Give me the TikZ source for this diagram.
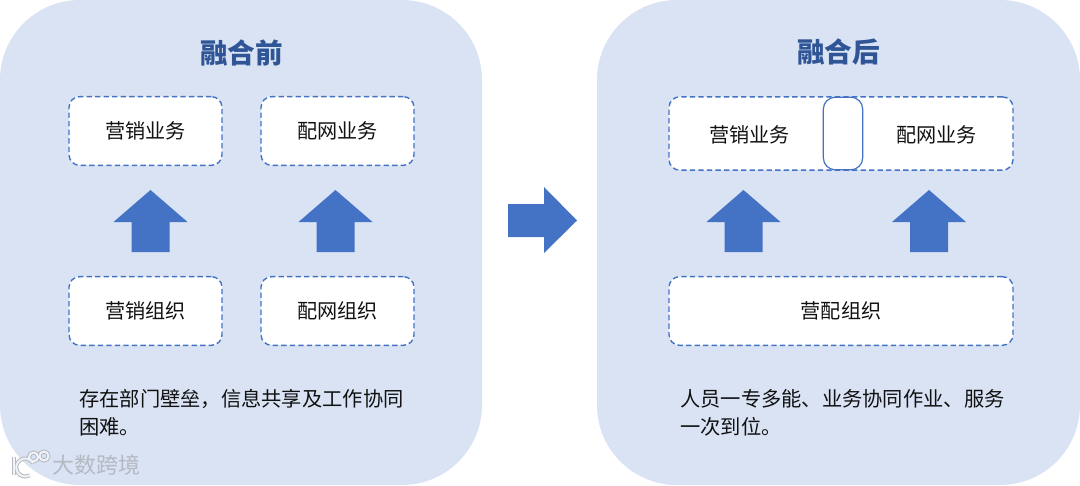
\documentclass[tikz,border=0pt]{standalone}
\usepackage{fontspec}
\setmainfont{Noto Sans CJK SC}
\definecolor{panelblue}{HTML}{D9E3F4}
\definecolor{arrowblue}{HTML}{4472C4}
\definecolor{inktext}{HTML}{111111}
\definecolor{titleblue}{HTML}{2F5597}
\definecolor{markgrey}{HTML}{B4B9C2}
\definecolor{markfill}{HTML}{F1F3F7}
\newcommand{\uparrowshape}[1]{\fill[arrowblue] (#1,190) -- (#1+37,222) -- (#1+19,222) -- (#1+19,252) -- (#1-19,252) -- (#1-19,222) -- (#1-37,222) -- cycle;}
\tikzset{
 panel/.style={fill=panelblue,draw=none,rounded corners=60pt},
 dashbox/.style={draw=arrowblue,fill=white,line width=1.05pt,dash pattern=on 4pt off 2.4pt,rounded corners=8pt,inner sep=0pt,font=\fontsize{15.1}{15.1}\selectfont,text=inktext},
 solidbox/.style={draw=arrowblue,fill=white,line width=0.9pt,rounded corners=9pt,inner sep=0pt},
 paneltitle/.style={font=\fontsize{20.7}{20.7}\selectfont\bfseries,text=titleblue,inner sep=0pt},
 bodytext/.style={font=\fontsize{15.2}{15.2}\selectfont,text=inktext,inner sep=0pt,anchor=west},
 plain/.style={font=\fontsize{15.1}{15.1}\selectfont,text=inktext,inner sep=0pt},
 mark text/.style={font=\fontsize{16.5}{16.5}\selectfont,text=markgrey,inner sep=0pt,anchor=west},
 mark halo/.style={markgrey,line width=3pt},
 mark core/.style={markfill,line width=1.5pt}
}
\begin{document}
\begin{tikzpicture}[x=0.75pt,y=-0.75pt]
\useasboundingbox (0,0) rectangle (1080,485);
\fill[white] (0,0) rectangle (1080,485);
\fill[panel] (0,0) rectangle (482,485);
\fill[panel] (597,0) rectangle (1080,485);
\node[paneltitle] (t1) at (241.5,53) {融合前};
\node[paneltitle] (t2) at (838.5,52) {融合后};
\node[dashbox,minimum width=114.75pt,minimum height=51.5pt] (a1) at (145.5,131) {营销业务};
\node[dashbox,minimum width=114.75pt,minimum height=51.5pt] (a2) at (337.5,131) {配网业务};
\node[dashbox,minimum width=114.75pt,minimum height=51.5pt] (a3) at (145.5,311) {营销组织};
\node[dashbox,minimum width=114.75pt,minimum height=51.5pt] (a4) at (337.5,311) {配网组织};
\node[dashbox,minimum width=258pt,minimum height=55pt] (b1) at (841,133.5) {};
\node[solidbox,minimum width=29.5pt,minimum height=54.5pt] (b2) at (843,133.5) {};
\node[plain] (b3) at (749.5,135) {营销业务};
\node[plain] (b4) at (936.5,135) {配网业务};
\node[dashbox,minimum width=258pt,minimum height=51.5pt] (b5) at (841,311) {营配组织};
\uparrowshape{150.5}
\uparrowshape{335.5}
\uparrowshape{743.5}
\uparrowshape{929}
\fill[arrowblue] (508,204) -- (544,204) -- (544,187) -- (577,220.5) -- (544,253) -- (544,237) -- (508,237) -- cycle;
\node[bodytext] (c1) at (79,399) {存在部门壁垒，信息共享及工作协同};
\node[bodytext] (c2) at (79,427) {困难。};
\node[bodytext] (c3) at (680,399) {人员一专多能、业务协同作业、服务};
\node[bodytext] (c4) at (680,427) {一次到位。};
\foreach \st in {mark halo,mark core}{
 \draw[\st] (14,457) -- (14,475);
 \draw[\st] (33,463) arc (-30:-300:9);
 \draw[\st] (33.5,457) circle (4.5);
 \draw[\st] (44,456) circle (4.5);
}
\node[mark text] (w) at (52,465) {大数跨境};
\end{tikzpicture}
\end{document}
